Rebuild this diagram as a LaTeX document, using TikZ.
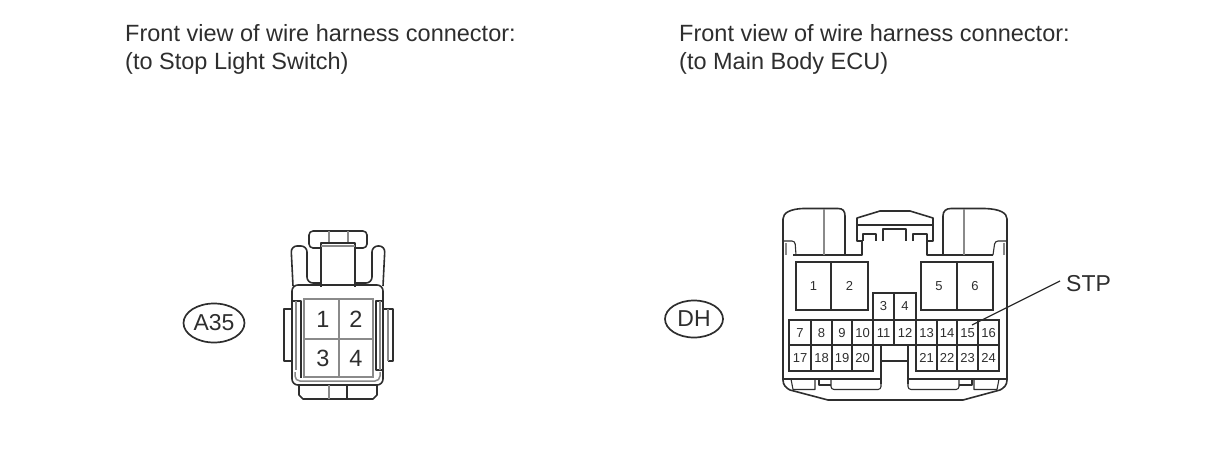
\documentclass[tikz,border=0pt]{standalone}
\usepackage{fontspec}
\setmainfont{Liberation Sans}
\usetikzlibrary{shapes.geometric}
\definecolor{ink}{HTML}{2E2E2E}
\definecolor{soft}{HTML}{8A8A8A}
\tikzset{
  caption/.style={anchor=north west,align=left,inner sep=0pt,text=ink,font=\fontsize{23.5}{28.5}\selectfont},
  tag/.style={ellipse,draw=ink,line width=1.7pt,inner sep=0pt,text=ink,font=\fontsize{23}{26}\selectfont},
  pin/.style={draw=ink,line width=1.5pt,inner sep=0pt,text=ink},
  bigpin/.style={pin,minimum width=34.5pt,minimum height=34.5pt,font=\fontsize{23.5}{26}\selectfont},
  tinypin/.style={pin,font=\fontsize{13}{14}\selectfont},
  shell/.style={draw=ink,line width=1.6pt,line join=round},
  thin shell/.style={draw=ink,line width=1.1pt,line join=round},
  grey shell/.style={draw=soft,line width=1.5pt},
  leader/.style={draw=ink,line width=1.3pt}
}
\begin{document}
\begin{tikzpicture}[x=1pt,y=-1pt]
\useasboundingbox (0,0) rectangle (1210,474);
% captions
\node[caption] (capL) at (125,24) {Front view of wire harness connector:\\(to Stop Light Switch)};
\node[caption] (capR) at (679,24) {Front view of wire harness connector:\\(to Main Body ECU)};
% tags
\node[tag,minimum width=61pt,minimum height=39pt] (tagA) at (214,323) {A35};
\node[tag,minimum width=58pt,minimum height=37pt] (tagD) at (694,319) {DH};

% ---------- left connector
\draw[shell,rounded corners=4pt] (321,248) -- (309,248) -- (309,231) -- (367,231) -- (367,248) -- (355,248);
\draw[grey shell] (329,231) -- (329,243) (348,231) -- (348,243);
\draw[thin shell,fill=white] (321,287) -- (321,243) -- (355,243) -- (355,287);
\draw[grey shell] (321,246) -- (355,246);
\draw[shell,rounded corners=6pt] (293,286) -- (291,246) -- (307,246) -- (307,283) -- (321,283);
\draw[shell,rounded corners=6pt] (383,286) -- (385,246) -- (372,246) -- (372,283) -- (355,283);
\draw[shell,rounded corners=6pt] (292,300) -- (292,285) -- (383,285) -- (383,385) -- (292,385) -- (292,300);
\draw[grey shell,rounded corners=5pt] (295,372) -- (295,381) -- (380,381) -- (380,372);
\draw[thin shell] (292,301) -- (301,301) -- (301,378);
\draw[grey shell] (296,301) -- (296,370);
\draw[thin shell] (383,301) -- (376,301) -- (376,370) -- (383,370);
\draw[grey shell] (380,301) -- (380,370);
\draw[thin shell] (292,309) -- (284,309) -- (284,361) -- (292,361);
\draw[thin shell] (383,309) -- (393,309) -- (393,361) -- (388,361);
\draw[grey shell] (388,309) -- (388,361);
\draw[shell] (299,385) -- (299,395) -- (303,399) -- (373,399) -- (377,395) -- (377,385);
\draw[thin shell] (347,385) -- (347,399);
\draw[grey shell] (329,385) -- (329,399);
\node[bigpin,minimum width=35pt,minimum height=40pt,draw=soft,line width=1.2pt] (a1) at (321.5,319) {\hspace{3pt}\raisebox{-1pt}{1}};
\node[bigpin,minimum width=34pt,minimum height=40pt,draw=soft,line width=1.2pt] (a2) at (356,319) {\raisebox{-1pt}{2}};
\node[bigpin,minimum width=35pt,minimum height=38pt,draw=soft,line width=1.2pt] (a3) at (321.5,358) {\hspace{3pt}\raisebox{-2pt}{3}};
\node[bigpin,minimum width=34pt,minimum height=38pt,draw=soft,line width=1.2pt] (a4) at (356,358) {\raisebox{-2pt}{4}};

% ---------- right connector: outer shell
\draw[shell] (783,380) -- (783,219) .. controls (783,213) and (790,209) .. (803,208.5)
  -- (838,208.5) .. controls (843,208.5) and (845,211) .. (845,216) -- (845,255) -- (862,255) -- (862,241)
  -- (857,241) -- (857,218) -- (880,211) -- (910,211) -- (933,218) -- (933,241) -- (927,241) -- (927,255)
  -- (943,255) -- (943,216) .. controls (943,211) and (946,208.5) .. (951,208.5) -- (985,208.5)
  .. controls (1000,209) and (1007,213) .. (1007,219) -- (1007,380)
  .. controls (1007,385) and (1004,388) .. (1000,390) -- (963,400) -- (828,400) -- (790,390)
  .. controls (786,388) and (783,385) .. (783,380);
\draw[thin shell] (793,255) -- (845,255) (943,255) -- (993,255);
\draw[grey shell] (824,209) -- (824,255) (964,209) -- (964,255);
\draw[thin shell,rounded corners=3pt] (783,241) -- (795,241) -- (796,255);
\draw[thin shell,rounded corners=3pt] (1007,241) -- (995,241) -- (993,255);
\draw[grey shell] (786,243) -- (786,255) (1004,243) -- (1004,255);
\draw[thin shell] (857,225) -- (933,225);
\draw[thin shell] (863,241) -- (863,234) -- (876,234) -- (876,241);
\draw[thin shell] (883,241) -- (883,229) -- (906,229) -- (906,241);
\draw[thin shell] (913,241) -- (913,234) -- (927,234) -- (927,241);
% big pins
\node[bigpin,minimum width=35pt,minimum height=48pt,font=\fontsize{13}{14}\selectfont] (d1) at (813.5,286) {1};
\node[bigpin,minimum width=37pt,minimum height=48pt,font=\fontsize{13}{14}\selectfont] (d2) at (849.5,286) {2};
\node[bigpin,minimum width=36pt,minimum height=48pt,font=\fontsize{13}{14}\selectfont] (d5) at (939,286) {5};
\node[bigpin,minimum width=36pt,minimum height=48pt,font=\fontsize{13}{14}\selectfont] (d6) at (975,286) {6};
\node[tinypin,minimum width=21pt,minimum height=27pt] (d3) at (883.5,306.5) {3};
\node[tinypin,minimum width=22pt,minimum height=27pt] (d4) at (905,306.5) {4};
% small pins: name/centre x/width
\foreach \n/\cx/\w in {7/800/22,8/821.5/21,9/842/20,10/862.5/21,11/883.5/21,12/905/22,13/926.5/21,14/947/20,15/967.5/21,16/988.5/21}
  \node[tinypin,minimum width=\w pt,minimum height=25pt,text height=9pt,text depth=0pt] (d\n) at (\cx,332.5) {\n};
\foreach \n/\cx/\w in {17/800/22,18/821.5/21,19/842/20,20/862.5/21,21/926.5/21,22/947/20,23/967.5/21,24/988.5/21}
  \node[tinypin,minimum width=\w pt,minimum height=26pt,text height=9pt,text depth=0pt] (d\n) at (\cx,358) {\n};
% lower part
\draw[thin shell] (881,345) -- (881,384);
\draw[thin shell] (908,345) -- (908,384);
\draw[thin shell] (881,361) -- (908,361);
\draw[thin shell] (783,379) -- (881,379) (908,379) -- (1007,379);
\draw[thin shell,rounded corners=3pt] (881,379) -- (881,389.5) -- (831,389.5) -- (831,379);
\draw[thin shell] (819,379) -- (819,385) -- (831,385);
\draw[thin shell] (815,379) -- (815,389.5) -- (793,389.5) -- (791,379);
\draw[thin shell,rounded corners=3pt] (908,379) -- (908,389.5) -- (959,389.5) -- (959,379);
\draw[thin shell] (972,379) -- (972,385) -- (959,385);
\draw[thin shell] (974,379) -- (974,389.5) -- (997,389.5) -- (999,379);
% STP label and leader
\node[anchor=west,inner sep=0pt,text=ink,font=\fontsize{23}{26}\selectfont] (stp) at (1066,284) {STP};
\coordinate (stpEnd) at (972,325);
\draw[leader] (stp.west) ++(-6,-3) coordinate (stpStart) -- (stpEnd);
\end{tikzpicture}
\end{document}
